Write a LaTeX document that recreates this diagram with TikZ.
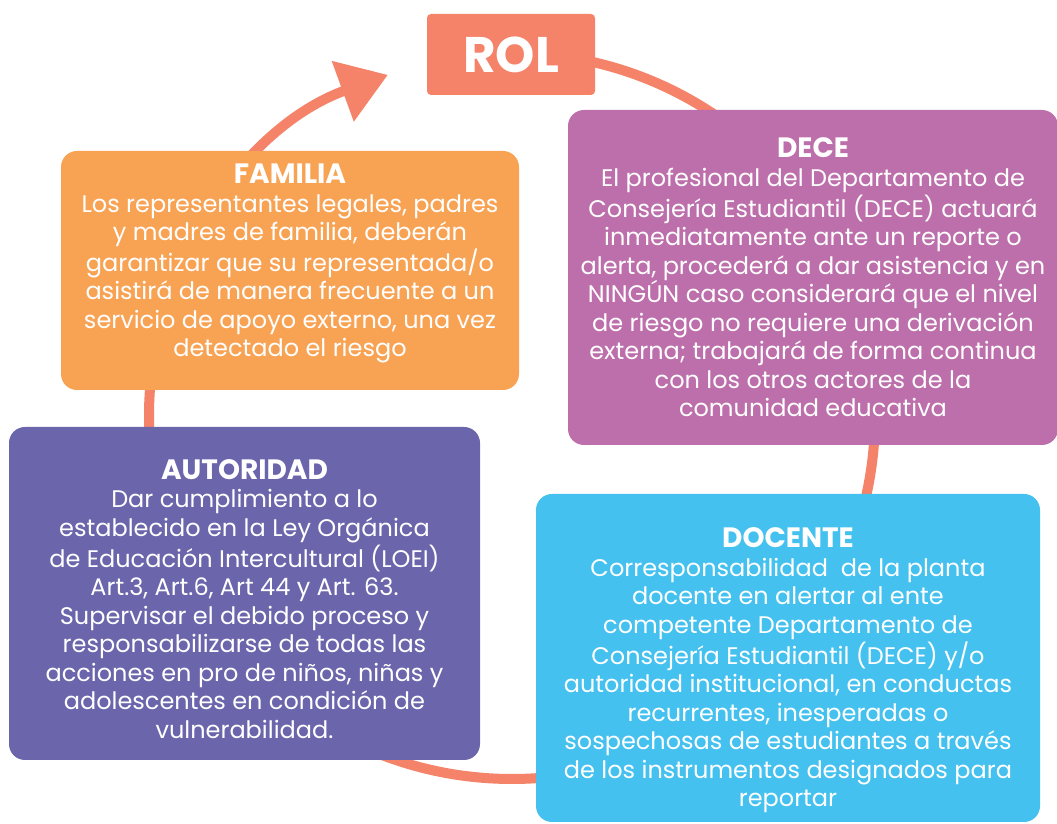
\documentclass[tikz,border=0pt]{standalone}
\usepackage{fontspec}
\setmainfont{Poppins}
\usetikzlibrary{arrows.meta}
\definecolor{rolsalmon}{HTML}{F4836A}
\definecolor{famorange}{HTML}{F8A354}
\definecolor{decepurple}{HTML}{BD6FAB}
\definecolor{autindigo}{HTML}{6B65AC}
\definecolor{docblue}{HTML}{44C1EF}
\newcommand{\roltitle}[1]{{\fontsize{14}{14.25}\selectfont\bfseries #1}}

\begin{document}
\begin{tikzpicture}[x=0.5pt, y=0.5pt,
    box/.style={rounded corners=8pt, text=white, align=center, inner sep=0pt,
      font=\fontsize{12}{14.25}\selectfont},
    ring/.style={line width=5pt, rolsalmon}]
            \useasboundingbox (0,0) rectangle (1057,824);

            % Ring
            \coordinate (centre) at (512,408);
            \draw[ring, -{Triangle[length=24pt, width=31pt]}] (centre) ++(90:363)
                arc[start angle=90, end angle=-250, radius=363];

            % Nodes
            \node[box, fill=rolsalmon, rounded corners=2pt, minimum width=84pt, minimum height=40.5pt,
                font=\fontsize{25}{28}\selectfont\bfseries] (rol) at (511,769.5) {ROL};
            \node[box, fill=famorange, minimum width=229pt, minimum height=119.5pt] (familia) at (290,553.5)
                {\roltitle{FAMILIA}\\
                 Los representantes legales, padres\\
                 y madres de familia, deberán\\
                 garantizar que su representada/o\\
                 asistirá de manera frecuente a un\\
                 servicio de apoyo externo, una vez\\
                 detectado el riesgo\\[-4.25pt]\mbox{}};
            \node[box, fill=decepurple, minimum width=245pt, minimum height=167.5pt] (dece) at (813,546.5)
                {\roltitle{DECE}\\
                 El profesional del Departamento de\\
                 Consejería Estudiantil (DECE) actuará\\
                 inmediatamente ante un reporte o\\
                 alerta, procederá a dar asistencia y en\\
                 NINGÚN caso considerará que el nivel\\
                 de riesgo no requiere una derivación\\
                 externa; trabajará de forma continua\\
                 con los otros actores de la\\
                 comunidad educativa};
            \node[box, fill=autindigo, minimum width=235.5pt, minimum height=166.5pt] (autoridad) at (244.5,230.5)
                {\mbox{}\\[1pt]
                 \roltitle{AUTORIDAD}\\
                 Dar cumplimiento a lo\\
                 establecido en la Ley Orgánica\\
                 de Educación Intercultural (LOEI)\\
                 Art.3, Art.6, Art 44 y Art. 63.\\
                 Supervisar el debido proceso y\\
                 responsabilizarse de todas las\\
                 acciones en pro de niños, niñas y\\
                 adolescentes en condición de\\
                 vulnerabilidad.};
            \node[box, fill=docblue, minimum width=252pt, minimum height=164pt] (docente) at (788,166)
                {\mbox{}\\[8pt]
                 \roltitle{DOCENTE}\\
                 Corresponsabilidad\ \ de la planta\\
                 docente en alertar al ente\\
                 competente Departamento de\\
                 Consejería Estudiantil (DECE) y/o\\
                 autoridad institucional, en conductas\\
                 recurrentes, inesperadas o\\
                 sospechosas de estudiantes a través\\
                 de los instrumentos designados para\\
                 reportar};
        \end{tikzpicture}
\end{document}
